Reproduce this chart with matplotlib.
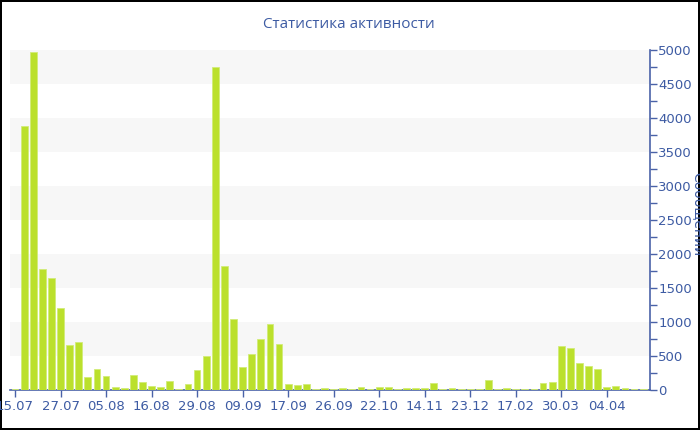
import numpy as np
import matplotlib.pyplot as plt

# activity per period
labels = ["15.07", "27.07", "05.08", "16.08", "29.08", "09.09", "17.09",
          "26.09", "22.10", "14.11", "23.12", "17.02", "30.03", "04.04"]
values = [10, 3880, 4970, 1780, 1650, 1210, 660, 700, 190, 310,
          205, 45, 30, 220, 120, 60, 45, 130, 15, 90,
          295, 500, 4750, 1825, 1045, 340, 530, 750, 970, 675,
          90, 75, 85, 15, 30, 20, 30, 15, 45, 15,
          40, 40, 15, 25, 30, 30, 100, 20, 25, 20,
          15, 15, 150, 15, 35, 20, 15, 15, 100, 120,
          650, 620, 400, 360, 315, 45, 65, 25, 15, 15]
label_step = 5

text_col = "#3d5ba3"
axis_col = "#4a62a8"
bar_col = "#bbe02c"

fig = plt.figure(figsize=(7, 4.3), dpi=100)
fig.patch.set_edgecolor("black")
fig.patch.set_linewidth(1.5)
ax = fig.add_axes([10 / 700, 40 / 430, 640 / 700, 340 / 430])

x = np.arange(len(values))
ax.bar(x, values, width=0.75, color=bar_col, edgecolor="#d2ec78", linewidth=0.6, zorder=3)

# alternating bands
for lo in range(500, 5000, 1000):
    ax.axhspan(lo, lo + 500, color="#f7f7f7", zorder=0, lw=0)

ax.set_xlim(-0.55, 69.75)
ax.set_ylim(0, 5000)

ax.set_xticks(x[::label_step])
ax.set_xticklabels(labels)
ax.yaxis.tick_right()
ax.set_yticks(range(0, 5001, 500))
ax.set_yticks(range(250, 5000, 500), minor=True)

for s in ["top", "left"]:
    ax.spines[s].set_visible(False)
for s in ["bottom", "right"]:
    ax.spines[s].set_color(axis_col)
    ax.spines[s].set_linewidth(1.2)

ax.tick_params(axis="both", colors=axis_col, labelcolor=text_col, labelsize=9.5,
               length=5, width=1)
ax.tick_params(axis="y", which="minor", colors=axis_col, length=5, width=1, right=True)
ax.tick_params(axis="y", pad=1)
ax.tick_params(axis="x", pad=2)

fig.text(349 / 700, 1 - 25 / 430, "Статистика активности", ha="center", va="center",
         fontsize=11, color=text_col, family="Open Sans")
fig.text(697 / 700, 1 - 214 / 430, "Сообщений", ha="center", va="center",
         rotation=270, fontsize=10, color=text_col)

fig.savefig("out.png", dpi=100)
